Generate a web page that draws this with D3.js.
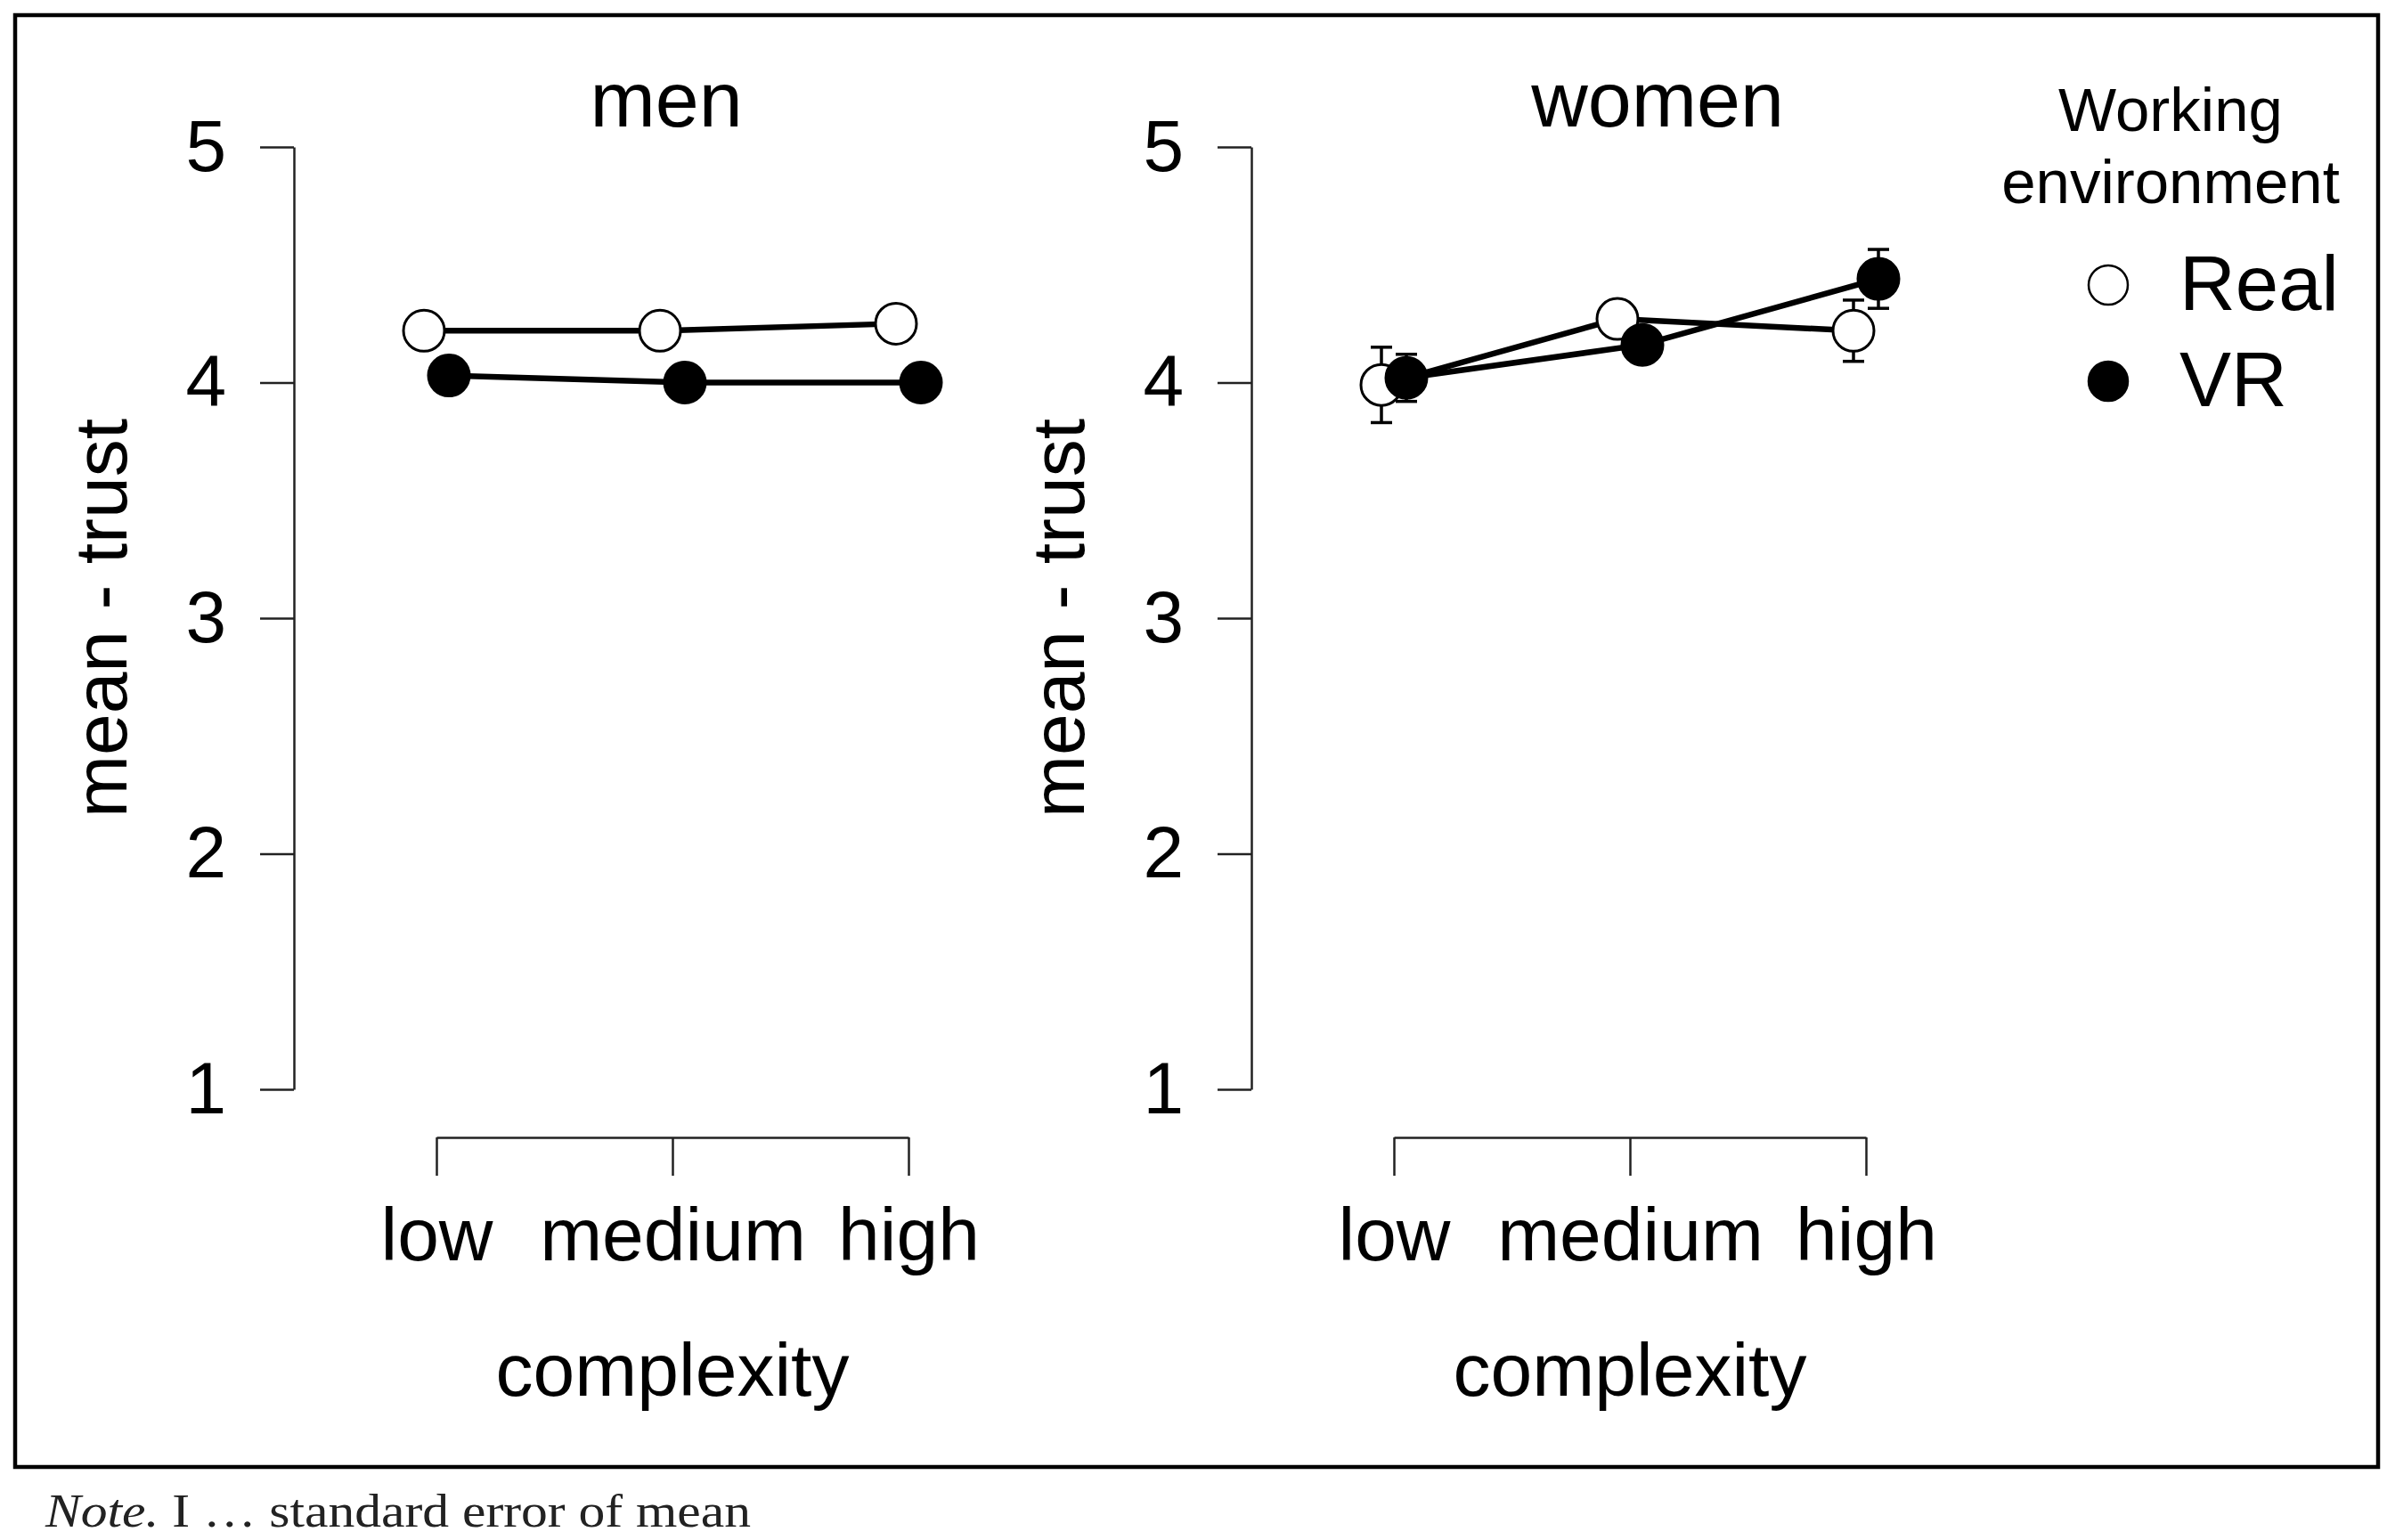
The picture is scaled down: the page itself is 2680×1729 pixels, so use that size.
<!DOCTYPE html>
<html>
<head>
<meta charset="utf-8">
<script src="https://cdn.jsdelivr.net/npm/d3@7"></script>
<style>
  body { margin: 0; background: #fff; }
  svg { display: block; font-family: 'Liberation Sans', Arial, sans-serif; }
</style>
</head>
<body>
<div class="chart"></div>
<script>
// data
const complexityLevels = ['low', 'medium', 'high'];
const environments = ['Real', 'VR'];
const yTicks = [1, 2, 3, 4, 5];

const menReal = [4.22, 4.22, 4.25];
const menVR = [4.03, 4.0, 4.0];
const menRealSE = [0.04, 0.04, 0.04];
const menVRSE = [0.05, 0.03, 0.03];

const womenReal = [3.99, 4.27, 4.22];
const womenVR = [4.02, 4.16, 4.44];
const womenRealSE = [0.16, 0.06, 0.13];
const womenVRSE = [0.1, 0.06, 0.125];

const width = 2680;
const height = 1729;

const svg = d3
  .select('.chart')
  .append('svg')
  .attr('width', width)
  .attr('height', height);

// frame round the figure
svg
  .append('rect')
  .attr('x', 17)
  .attr('y', 17)
  .attr('width', 2653)
  .attr('height', 1630)
  .attr('fill', 'none')
  .attr('stroke', '#000')
  .attr('stroke-width', 4.5);

const panels = [
  { title: 'men', real: menReal, vr: menVR, realSE: menRealSE, vrSE: menVRSE, dx: 0, titleX: 748 },
  { title: 'women', real: womenReal, vr: womenVR, realSE: womenRealSE, vrSE: womenVRSE, dx: 1075, titleX: 1861 },
];

const yScale = d3.scaleLinear().domain([1, 5]).range([1223, 165]);
const dodge = 14;
const r = 23;

panels.forEach((p) => {
  const bounds = svg.append('g');
  const axisX = 330 + p.dx;

  const xScale = d3
    .scalePoint()
    .domain(complexityLevels)
    .range([490 + p.dx, 1020 + p.dx]);

  // title
  bounds
    .append('text')
    .attr('x', p.titleX)
    .attr('y', 142)
    .attr('text-anchor', 'middle')
    .style('font-size', '88px')
    .text(p.title);

  // y axis
  const yAxis = bounds
    .append('g')
    .attr('transform', `translate(${axisX},0)`)
    .call(
      d3
        .axisLeft(yScale)
        .tickValues(yTicks)
        .tickFormat(d3.format('d'))
        .tickSize(38)
        .tickSizeOuter(0)
        .tickPadding(38)
    );
  yAxis.selectAll('path, line').attr('stroke', '#222').attr('stroke-width', 2.5);
  yAxis.selectAll('text').style('font-size', '82px').attr('fill', '#000').attr('font-family', null);

  // x axis
  const xAxis = bounds
    .append('g')
    .attr('transform', 'translate(0,1277)')
    .call(d3.axisBottom(xScale).tickSize(43).tickSizeOuter(0).tickPadding(35));
  xAxis.selectAll('path, line').attr('stroke', '#222').attr('stroke-width', 2.5);
  xAxis.selectAll('text').style('font-size', '84px').attr('fill', '#000').attr('font-family', null);

  // axis titles
  bounds
    .append('text')
    .attr('x', xScale('medium'))
    .attr('y', 1567)
    .attr('text-anchor', 'middle')
    .style('font-size', '84px')
    .text('complexity');

  bounds
    .append('text')
    .attr('transform', `translate(${142 + p.dx},${yScale(3)}) rotate(-90)`)
    .attr('text-anchor', 'middle')
    .style('font-size', '84px')
    .text('mean - trust');

  const series = [
    { key: 'Real', values: p.real, se: p.realSE, off: -dodge, fill: '#fff' },
    { key: 'VR', values: p.vr, se: p.vrSE, off: dodge, fill: '#000' },
  ];

  const lineGenerator = d3
    .line()
    .x((d) => d.x)
    .y((d) => yScale(d.v));

  const pts = (s) =>
    complexityLevels.map((c, i) => ({ x: xScale(c) + s.off, v: s.values[i], se: s.se[i] }));

  // lines
  series.forEach((s) => {
    bounds
      .append('path')
      .attr('d', lineGenerator(pts(s)))
      .attr('fill', 'none')
      .attr('stroke', '#000')
      .attr('stroke-width', 6.5);
  });

  // error bars
  series.forEach((s) => {
    const eb = bounds.append('g').attr('stroke', '#000').attr('stroke-width', 3.5);
    pts(s).forEach((d) => {
      eb.append('line')
        .attr('x1', d.x).attr('x2', d.x)
        .attr('y1', yScale(d.v - d.se)).attr('y2', yScale(d.v + d.se));
      [d.v - d.se, d.v + d.se].forEach((e) => {
        eb.append('line')
          .attr('x1', d.x - 12).attr('x2', d.x + 12)
          .attr('y1', yScale(e)).attr('y2', yScale(e));
      });
    });
  });

  // points
  series.forEach((s) => {
    bounds
      .append('g')
      .selectAll('circle')
      .data(pts(s))
      .join('circle')
      .attr('cx', (d) => d.x)
      .attr('cy', (d) => yScale(d.v))
      .attr('r', r)
      .attr('fill', s.fill)
      .attr('stroke', '#000')
      .attr('stroke-width', 3);
  });
});

// legend
const legend = svg.append('g');
legend
  .append('text')
  .attr('x', 2437)
  .attr('y', 147)
  .attr('text-anchor', 'middle')
  .style('font-size', '69px')
  .text('Working');
legend
  .append('text')
  .attr('x', 2437)
  .attr('y', 228)
  .attr('text-anchor', 'middle')
  .style('font-size', '69px')
  .text('environment');

const legendY = d3.scalePoint().domain(environments).range([320, 428]);
const legendItems = legend
  .selectAll('g.item')
  .data(environments)
  .join('g')
  .attr('class', 'item')
  .attr('transform', (d) => `translate(0,${legendY(d)})`);
legendItems
  .append('circle')
  .attr('cx', 2367)
  .attr('cy', 0)
  .attr('r', 22)
  .attr('fill', (d) => (d === 'Real' ? '#fff' : '#000'))
  .attr('stroke', '#000')
  .attr('stroke-width', 2.5);
legendItems
  .append('text')
  .attr('x', 2447)
  .attr('y', 28)
  .style('font-size', '87px')
  .text((d) => d);

// note below the frame
const note = svg
  .append('text')
  .attr('x', 51)
  .attr('y', 1714)
  .attr('textLength', 792)
  .attr('lengthAdjust', 'spacingAndGlyphs')
  .style('font-family', "'Liberation Serif', 'DejaVu Serif', serif")
  .style('font-size', '52px')
  .attr('fill', '#222');
note.append('tspan').style('font-style', 'italic').text('Note.');
note.append('tspan').text(' I \u2026 standard error of mean');
</script>
</body>
</html>
